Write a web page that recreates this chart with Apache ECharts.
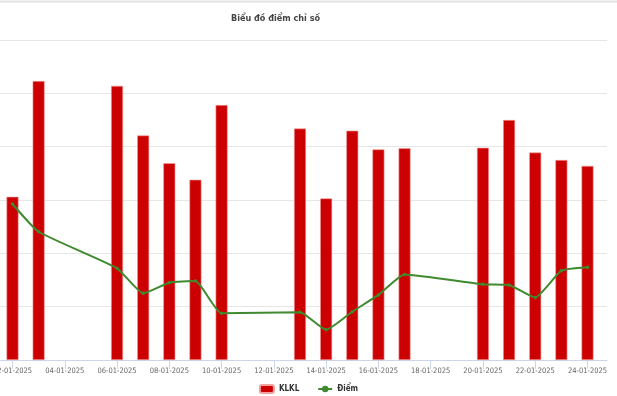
<!DOCTYPE html>
<html>
<head>
<meta charset="utf-8">
<script src="https://cdn.jsdelivr.net/npm/echarts@6/dist/echarts.min.js"></script>
<style>
html,body{margin:0;padding:0;background:#fff;}
#c{width:617px;height:396px;}
</style>
</head>
<body>
<div id="c"></div>
<script>
// Data
var startDate = '02-01-2025';
var tickLabels = ['02-01-2025','04-01-2025','06-01-2025','08-01-2025','10-01-2025','12-01-2025',
                  '14-01-2025','16-01-2025','18-01-2025','20-01-2025','22-01-2025','24-01-2025'];
var tradingDays = ['02-01-2025','03-01-2025','06-01-2025','07-01-2025','08-01-2025','09-01-2025',
                   '10-01-2025','13-01-2025','14-01-2025','15-01-2025','16-01-2025','17-01-2025',
                   '20-01-2025','21-01-2025','22-01-2025','23-01-2025','24-01-2025'];
var klkl = [306, 523, 514, 421, 369, 338, 478, 434, 303, 430, 395, 397, 398, 450, 389, 375, 364];
var diem = [1268.5, 1258.1, 1244.4, 1235.0, 1239.0, 1239.6, 1227.5, 1227.9, 1221.3, 1228.1,
            1234.4, 1242.1, 1238.4, 1238.1, 1233.4, 1243.5, 1244.8];

function dayIndex(s) {
  var p = s.split('-'), q = startDate.split('-');
  var a = Date.UTC(+p[2], +p[1] - 1, +p[0]);
  var b = Date.UTC(+q[2], +q[1] - 1, +q[0]);
  return Math.round((a - b) / 86400000);
}
function labelOf(i) {
  var q = startDate.split('-');
  var d = new Date(Date.UTC(+q[2], +q[1] - 1, +q[0]) + i * 86400000);
  var dd = ('0' + d.getUTCDate()).slice(-2), mm = ('0' + (d.getUTCMonth() + 1)).slice(-2);
  return dd + '-' + mm + '-' + d.getUTCFullYear();
}
var tickIdx = tickLabels.map(dayIndex);
var barData = tradingDays.map(function (d, i) { return [dayIndex(d), klkl[i]]; });
var lineData = tradingDays.map(function (d, i) { return [dayIndex(d), diem[i]]; });

var font = "'Liberation Sans Narrow', 'DejaVu Sans Condensed', 'Roboto', sans-serif";
var chart = echarts.init(document.getElementById('c'), null, {renderer: 'canvas'});
chart.setOption({
  animation: false,
  backgroundColor: '#fff',
  title: {
    text: 'Biểu đồ điểm chỉ số',
    left: 226, top: 9,
    textStyle: {fontFamily: font, fontSize: 9, fontWeight: 'bold', color: '#444'}
  },
  graphic: [{
    type: 'line', shape: {x1: 0, y1: 1.5, x2: 617, y2: 1.5},
    style: {stroke: '#e2e2e2', lineWidth: 2}, silent: true
  }],
  legend: {
    left: 'center', top: 379,
    itemWidth: 14, itemHeight: 8, itemGap: 18,
    textStyle: {fontFamily: font, fontSize: 8, fontWeight: 'bold', color: '#333'},
    data: [{name: 'KLKL', icon: 'roundRect'}, {name: 'Điểm'}]
  },
  grid: {left: 0, right: 10, top: 40, bottom: 36, containLabel: false, outerBoundsMode: 'none'},
  xAxis: {
    type: 'value',
    min: -0.478, max: 22.746,
    splitLine: {show: false},
    axisLine: {show: true, lineStyle: {color: '#ccd6eb', width: 1}},
    axisTick: {show: true, length: 9, customValues: tickIdx, lineStyle: {color: '#ccd6eb'}},
    axisLabel: {
      customValues: tickIdx, margin: 7, hideOverlap: false,
      fontFamily: font, fontSize: 7.5, color: '#666',
      formatter: function (v) { return labelOf(Math.round(v)); }
    }
  },
  yAxis: [{
    type: 'value', min: 0, max: 600, interval: 100,
    axisLabel: {show: false}, axisLine: {show: false}, axisTick: {show: false},
    splitLine: {lineStyle: {color: '#e6e6e6', width: 1}}
  }, {
    type: 'value', min: 1210, max: 1330, interval: 20,
    axisLabel: {show: false}, axisLine: {show: false}, axisTick: {show: false},
    splitLine: {show: false}
  }],
  series: [{
    name: 'KLKL', type: 'bar', yAxisIndex: 0,
    barWidth: 12,
    itemStyle: {color: '#cc0000', borderColor: '#f3a0a0', borderWidth: 0.6},
    data: barData
  }, {
    name: 'Điểm', type: 'line', yAxisIndex: 1,
    smooth: 0.15,
    symbol: 'circle', symbolSize: 3.5,
    lineStyle: {color: '#3f8a2e', width: 2},
    itemStyle: {color: '#3f8a2e'},
    data: lineData
  }]
});
</script>
</body>
</html>
